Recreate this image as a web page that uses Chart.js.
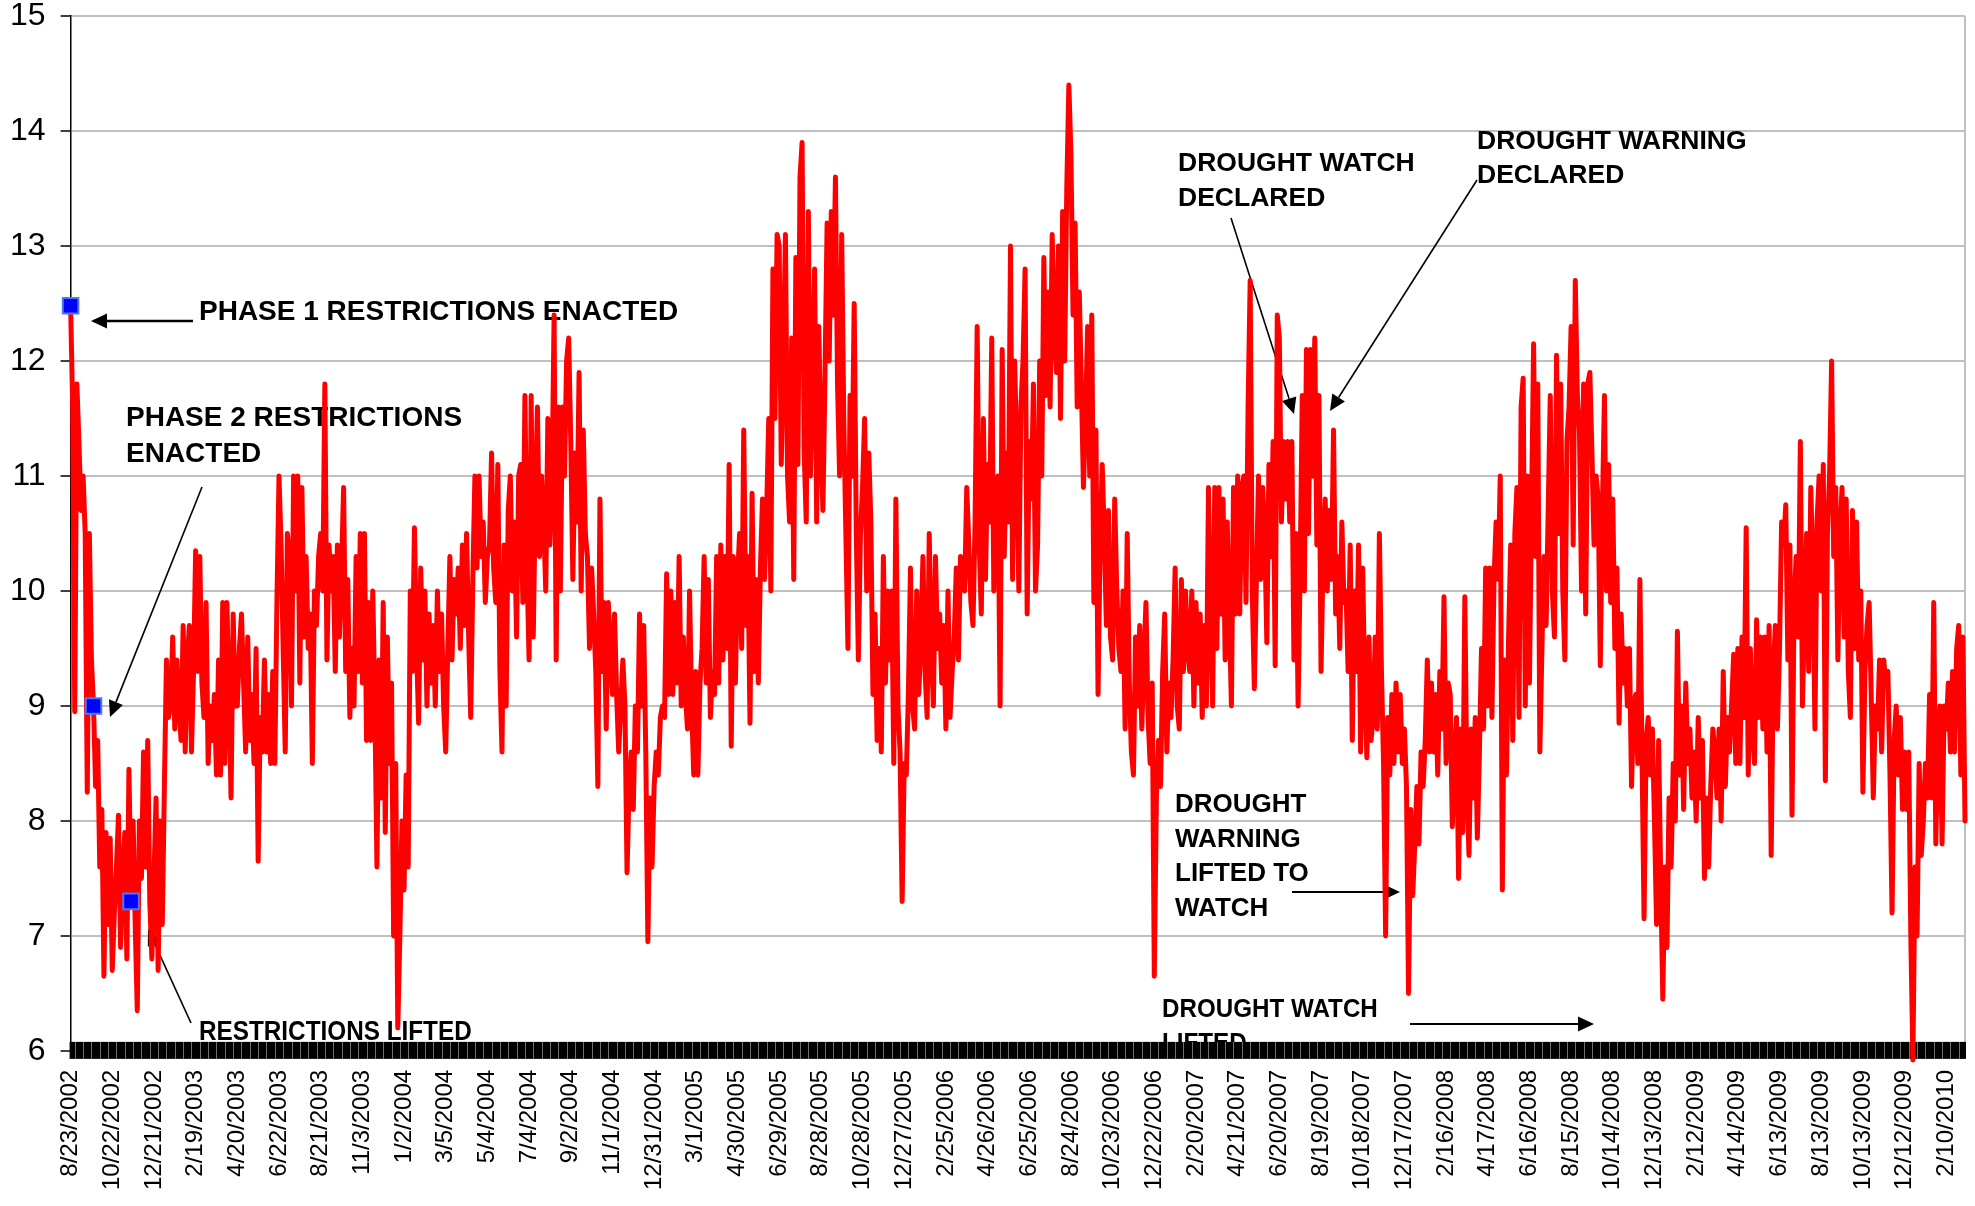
<!DOCTYPE html>
<html>
<head>
<meta charset="utf-8">
<script src="https://cdn.jsdelivr.net/npm/chart.js@4.4.1/dist/chart.umd.min.js"></script>
<style>
  html, body { margin: 0; padding: 0; background: #ffffff; }
  #wrap { width: 1975px; height: 1206px; position: relative; }
</style>
</head>
<body>
<div id="wrap"><canvas id="c"></canvas></div>
<script>
// Tick labels shown every 20 samples (samples are ~3 days apart)
const tickLabels = ['8/23/2002','10/22/2002','12/21/2002','2/19/2003','4/20/2003','6/22/2003','8/21/2003','11/3/2003','1/2/2004','3/5/2004','5/4/2004','7/4/2004','9/2/2004','11/1/2004','12/31/2004','3/1/2005','4/30/2005','6/29/2005','8/28/2005','10/28/2005','12/27/2005','2/25/2006','4/26/2006','6/25/2006','8/24/2006','10/23/2006','12/22/2006','2/20/2007','4/21/2007','6/20/2007','8/19/2007','10/18/2007','12/17/2007','2/16/2008','4/17/2008','6/16/2008','8/15/2008','10/14/2008','12/13/2008','2/12/2009','4/14/2009','6/13/2009','8/13/2009','10/13/2009','12/12/2009','2/10/2010'];
const samplesPerTick = 20;

// Series values
const levels = [
12.48,11.6,8.95,11.8,11.3,10.7,11.0,10.5,8.25,10.5,9.4,9.0,8.3,8.7,7.6,8.1,6.65,7.9,7.1,7.85,
6.7,7.2,7.6,8.05,6.9,7.5,7.9,6.8,8.45,7.3,8.0,7.1,6.35,8.0,7.5,8.6,7.6,8.7,7.3,6.8,
7.5,8.2,6.7,8.0,7.1,8.3,9.4,8.9,9.0,9.6,8.8,9.4,9.0,8.7,9.7,8.6,9.4,9.7,8.6,9.3,
10.35,9.3,10.3,9.2,8.9,9.9,8.5,9.0,8.7,9.1,8.4,9.4,8.4,9.9,8.5,9.9,9.1,8.2,9.8,9.0,
9.0,9.5,9.8,9.2,8.6,9.6,8.7,9.1,8.5,9.5,7.65,8.9,8.6,9.4,8.6,9.1,8.5,9.3,8.5,9.9,
11.0,10.4,9.5,8.6,10.5,10.3,9.0,11.0,10.0,11.0,9.2,10.9,9.6,10.3,9.5,9.8,8.5,10.0,9.7,10.3,
10.5,10.0,11.8,9.4,10.4,10.0,10.3,9.3,10.4,9.6,10.2,10.9,9.3,10.1,8.9,9.5,9.0,10.3,9.3,10.5,
9.2,10.5,8.7,9.9,8.7,10.0,9.0,7.6,9.4,8.2,9.9,7.9,9.6,8.5,9.2,7.0,8.5,6.2,7.0,8.0,
7.4,8.4,7.6,10.0,9.3,10.55,9.5,8.85,10.2,9.4,10.0,9.0,9.8,9.2,9.7,9.0,10.0,9.3,9.8,9.0,
8.6,9.5,10.3,9.4,10.1,9.8,10.2,9.5,10.4,9.7,10.5,9.6,8.9,10.1,11.0,10.2,11.0,10.3,10.6,9.9,
10.3,10.4,11.2,10.2,9.9,11.1,9.3,8.6,10.4,9.0,10.7,11.0,10.0,10.6,9.6,11.0,11.1,9.9,11.7,10.2,
9.4,11.7,9.6,10.8,11.6,10.3,11.0,10.6,10.0,11.5,10.4,10.9,12.4,9.4,11.6,10.0,11.6,11.0,12.0,12.2,
11.3,10.1,11.2,10.6,11.9,10.0,11.4,10.5,10.3,9.5,10.2,9.8,9.3,8.3,10.8,9.3,9.9,8.8,9.9,9.5,
9.1,9.8,9.1,8.6,9.0,9.4,9.0,7.55,8.3,8.6,8.1,9.0,8.6,9.8,9.0,9.7,8.6,6.95,8.2,7.6,
8.3,8.6,8.4,8.9,9.0,8.9,10.15,9.1,10.0,9.1,9.9,9.2,10.3,9.0,9.6,9.1,8.8,10.0,9.0,8.4,
9.3,8.4,9.2,9.5,10.3,9.2,10.1,8.9,9.3,9.1,10.3,9.2,10.4,9.4,10.3,9.5,11.1,8.65,10.3,9.2,
10.1,10.5,9.5,11.4,9.7,10.3,8.85,10.85,9.3,10.1,9.2,10.2,10.8,10.1,10.7,11.5,10.0,12.8,11.5,13.1,
13.0,11.1,12.0,13.1,11.0,10.6,12.2,10.1,12.9,11.1,13.6,13.9,11.2,10.6,13.3,11.0,11.8,12.8,10.6,12.3,
11.3,10.7,11.9,13.2,12.0,13.3,12.4,13.6,11.8,11.0,13.1,11.5,10.5,9.5,11.7,11.0,12.5,10.5,9.4,10.5,
10.9,11.5,10.0,11.2,10.6,9.1,9.8,8.7,9.5,8.6,10.3,9.2,10.0,9.4,10.0,8.5,10.8,9.0,8.6,7.3,
8.5,8.4,9.1,10.2,9.0,8.8,10.0,9.1,9.6,10.3,9.3,8.9,10.5,9.5,9.0,10.3,9.5,9.8,9.2,9.7,
8.8,10.0,8.9,9.3,9.6,10.2,9.4,10.3,10.1,10.0,10.9,10.4,9.9,9.7,10.6,12.3,10.4,9.8,11.5,10.1,
11.1,10.6,12.2,10.0,10.8,11.0,9.0,12.1,10.3,11.2,10.6,13.0,10.1,12.0,11.2,10.0,11.6,12.0,12.8,9.8,
11.3,10.8,11.8,10.0,10.4,12.0,11.0,12.9,11.7,12.6,11.6,13.1,12.3,11.9,13.0,11.5,13.3,12.0,13.5,14.4,
13.8,12.4,13.2,11.6,12.6,11.8,10.9,11.5,12.3,11.0,12.4,9.9,11.4,9.1,10.4,11.1,10.5,9.7,10.7,9.6,
9.4,10.8,10.0,9.5,9.3,10.0,8.8,10.5,9.2,8.6,8.4,9.6,9.0,9.7,8.8,9.4,9.9,8.9,8.5,9.2,
6.65,8.2,8.7,8.3,9.3,9.8,8.6,9.2,8.9,9.4,10.2,9.0,8.8,10.1,9.3,10.0,9.5,9.3,10.0,9.0,
9.9,9.2,9.8,8.9,9.7,9.0,10.9,9.7,9.0,10.9,9.5,10.9,9.8,10.8,9.4,10.6,9.8,9.0,10.9,9.8,
11.0,9.8,10.9,11.0,9.9,11.6,12.7,10.0,9.15,10.1,11.0,10.1,10.9,10.5,9.55,11.1,10.3,11.3,9.35,12.4,
12.2,10.6,11.3,10.8,11.3,10.6,11.3,9.4,10.5,9.0,10.2,11.7,10.0,12.1,10.5,12.1,11.0,12.2,10.4,11.7,
9.3,10.3,10.8,10.0,10.7,10.1,11.4,9.8,10.3,9.5,10.6,9.9,10.0,9.3,10.4,8.7,10.0,9.3,10.4,8.6,
10.2,9.1,8.55,9.6,8.7,8.9,9.6,8.8,10.5,9.3,8.5,7.0,8.9,8.4,9.1,8.5,9.2,8.6,9.1,8.5,
8.8,8.3,6.5,8.1,7.35,7.8,8.3,7.8,8.6,8.3,8.7,9.4,8.6,9.2,8.6,9.1,8.4,9.3,8.8,9.95,
8.5,9.2,9.1,7.95,8.5,8.9,7.5,8.8,7.9,9.95,8.3,7.7,8.8,8.2,8.9,7.85,8.6,9.5,8.8,10.2,
9.0,10.2,8.9,10.1,10.6,10.1,11.0,7.4,9.4,8.4,9.6,10.4,8.7,10.5,10.9,8.9,11.6,11.85,9.0,11.0,
9.2,10.7,12.15,10.3,11.8,8.6,9.5,10.3,9.7,10.7,11.7,10.0,9.6,12.05,10.5,11.8,10.0,9.4,11.3,11.6,
12.3,10.4,12.7,11.7,11.4,10.0,11.8,9.8,11.8,11.9,11.2,10.4,11.0,10.8,9.35,10.7,11.7,10.0,11.1,9.9,
10.8,9.5,10.2,8.85,9.8,9.2,9.5,9.0,9.5,8.3,9.0,9.1,8.5,10.1,8.6,7.15,8.7,8.9,8.4,8.8,
8.0,7.1,8.7,7.5,6.45,7.6,6.9,8.2,7.6,8.5,8.0,9.65,8.4,9.0,8.1,9.2,8.5,8.8,8.2,8.6,
8.0,8.9,8.2,8.7,7.5,8.2,7.6,8.3,8.8,8.6,8.2,8.8,8.0,9.3,8.3,8.9,8.6,9.0,9.45,8.5,
9.5,8.5,9.6,8.9,10.55,8.4,9.5,8.8,8.5,9.75,8.9,9.6,8.8,9.6,8.6,9.7,7.7,9.3,9.7,8.8,
9.5,10.6,10.4,10.75,9.4,10.4,8.05,9.9,10.3,9.6,11.3,9.0,9.8,10.5,9.3,10.9,10.2,8.8,10.6,11.0,
10.0,11.1,8.35,10.5,11.0,12.0,10.3,10.9,9.4,10.5,10.9,9.6,10.8,9.3,8.9,10.7,9.5,10.6,9.4,10.0,
8.25,9.3,9.7,9.9,9.1,8.2,9.0,8.8,9.4,8.6,9.4,9.2,9.3,8.4,7.2,8.7,9.0,8.4,8.9,8.1,
8.6,8.1,8.6,7.0,5.92,7.6,7.0,8.5,7.7,8.0,8.5,8.2,9.1,8.2,9.9,7.8,8.7,9.0,7.8,9.0,
8.8,9.2,8.6,9.3,8.6,9.5,9.7,8.4,9.6,8.0
];

// Event markers (sample index, value)
const markerIdx = [0, 11, 29];
const markerVal = [12.48, 9.0, 7.3];

const yMin = 6, yMax = 15;

// Category labels: date text at every 20th sample
const categories = levels.map((_, i) => (i % samplesPerTick === 0 && tickLabels[i / samplesPerTick]) ? tickLabels[i / samplesPerTick] : '');
const markerData = levels.map(() => null);
markerIdx.forEach((k, j) => { markerData[k] = markerVal[j]; });

// Annotations (pixel positions on the 1975x1206 canvas)
const notes = [
  { lines: ['PHASE 1 RESTRICTIONS ENACTED'], x: 199, y: 320, lh: 36, size: 28, sx: 1.0 },
  { lines: ['PHASE 2 RESTRICTIONS', 'ENACTED'], x: 126, y: 426, lh: 36, size: 28, sx: 1.0 },
  { lines: ['RESTRICTIONS LIFTED'], x: 199, y: 1040, lh: 35, size: 27, sx: 0.9 },
  { lines: ['DROUGHT WATCH', 'DECLARED'], x: 1178, y: 171, lh: 35, size: 26, sx: 1.02 },
  { lines: ['DROUGHT WARNING', 'DECLARED'], x: 1477, y: 149, lh: 34, size: 26, sx: 1.02 },
  { lines: ['DROUGHT', 'WARNING', 'LIFTED TO', 'WATCH'], x: 1175, y: 812, lh: 34.7, size: 26, sx: 1.0 },
  { lines: ['DROUGHT WATCH', 'LIFTED'], x: 1162, y: 1017, lh: 34, size: 26, sx: 0.93 }
];
const arrows = [
  { x1: 193, y1: 321, x2: 91, y2: 321, w: 2.5 },
  { x1: 202, y1: 487, x2: 110, y2: 717, w: 1.6 },
  { x1: 191, y1: 1023, x2: 148, y2: 929, w: 1.6 },
  { x1: 1231, y1: 218, x2: 1294, y2: 414, w: 1.6 },
  { x1: 1477, y1: 180, x2: 1330, y2: 411, w: 1.6 },
  { x1: 1292, y1: 892, x2: 1400, y2: 892, w: 2.2 },
  { x1: 1410, y1: 1024, x2: 1594, y2: 1024, w: 2.2 }
];

function drawArrow(ctx, a) {
  const ang = Math.atan2(a.y2 - a.y1, a.x2 - a.x1);
  const L = 16, H = 7.5;
  const bx = a.x2 - L * Math.cos(ang), by = a.y2 - L * Math.sin(ang);
  ctx.strokeStyle = '#000';
  ctx.lineWidth = a.w;
  ctx.beginPath();
  ctx.moveTo(a.x1, a.y1);
  ctx.lineTo(bx, by);
  ctx.stroke();
  ctx.fillStyle = '#000';
  ctx.beginPath();
  ctx.moveTo(a.x2, a.y2);
  ctx.lineTo(bx + H * Math.sin(ang), by - H * Math.cos(ang));
  ctx.lineTo(bx - H * Math.sin(ang), by + H * Math.cos(ang));
  ctx.closePath();
  ctx.fill();
}

function noScalePadding(scale) {
  scale.paddingTop = 0;
  scale.paddingBottom = 0;
  scale.paddingLeft = 0;
  scale.paddingRight = 0;
}

const decor = {
  id: 'decor',
  beforeDatasetsDraw(chart) {
    const ctx = chart.ctx;
    const xs = chart.scales.x, ys = chart.scales.y;
    const y0 = ys.getPixelForValue(yMin);
    ctx.save();
    // right frame line
    ctx.strokeStyle = '#c0c0c0';
    ctx.lineWidth = 2;
    ctx.beginPath();
    ctx.moveTo(xs.right, ys.getPixelForValue(yMax));
    ctx.lineTo(xs.right, y0);
    ctx.stroke();
    // notes
    ctx.fillStyle = '#000';
    ctx.textAlign = 'left';
    ctx.textBaseline = 'alphabetic';
    notes.forEach(n => {
      ctx.font = 'bold ' + n.size + 'px "Liberation Sans", Arial, sans-serif';
      n.lines.forEach((ln, k) => {
        ctx.save();
        ctx.translate(n.x, n.y + k * n.lh);
        ctx.scale(n.sx, 1);
        ctx.fillText(ln, 0, 0);
        ctx.restore();
      });
    });
    arrows.forEach(a => drawArrow(ctx, a));
    // axis band with dense cross tick marks
    ctx.fillStyle = '#000';
    ctx.fillRect(xs.left - 1, y0 - 9, xs.right - xs.left + 2, 17);
    ctx.strokeStyle = 'rgba(150,150,150,0.75)';
    ctx.lineWidth = 1;
    for (let i = 2; i < levels.length; i += 4) {
      const x = Math.round(xs.getPixelForValue(i)) + 0.5;
      ctx.beginPath();
      ctx.moveTo(x, y0 - 9);
      ctx.lineTo(x, y0 + 8);
      ctx.stroke();
    }
    ctx.restore();
  }
};

new Chart(document.getElementById('c'), {
  type: 'line',
  data: {
    labels: categories,
    datasets: [
      {
        label: 'markers',
        data: markerData,
        showLine: false,
        pointStyle: 'rect',
        pointRadius: 11,
        pointHoverRadius: 11,
        pointBackgroundColor: '#0000ff',
        pointBorderColor: '#4a78ff',
        pointBorderWidth: 2,
        order: 0
      },
      {
        label: 'level',
        data: levels,
        borderColor: '#ff0000',
        borderWidth: 5,
        pointRadius: 0,
        tension: 0,
        borderJoinStyle: 'round',
        borderCapStyle: 'round',
        clip: false,
        order: 1
      }
    ]
  },
  options: {
    responsive: true,
    maintainAspectRatio: false,
    animation: false,
    devicePixelRatio: 1,
    layout: { autoPadding: false, padding: { left: -5, right: 10, top: 16, bottom: -3 } },
    plugins: { legend: { display: false }, tooltip: { enabled: false } },
    scales: {
      x: {
        type: 'category',
        offset: false,
        afterFit: noScalePadding,
        grid: { display: false, drawTicks: false },
        border: { display: false },
        ticks: {
          autoSkip: false,
          maxRotation: 90,
          minRotation: 90,
          padding: 19,
          color: '#000',
          font: { family: "'Liberation Sans', Arial, sans-serif", size: 24 }
        }
      },
      y: {
        min: yMin,
        max: yMax,
        afterFit: noScalePadding,
        ticks: {
          stepSize: 1,
          padding: 15,
          color: '#000',
          font: { family: "'Liberation Sans', Arial, sans-serif", size: 32, lineHeight: 1.0 }
        },
        grid: { color: '#c0c0c0', lineWidth: 2, tickLength: 10, tickColor: '#000', tickWidth: 1.5 },
        border: { display: true, color: '#000', width: 1.5 }
      }
    }
  },
  plugins: [decor]
});
</script>
</body>
</html>
